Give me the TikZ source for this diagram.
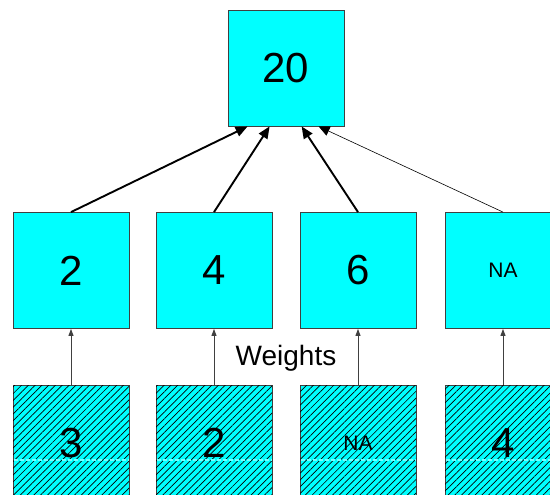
\documentclass[tikz,border=0pt]{standalone}
\usepackage{fontspec}
\setmainfont{Liberation Sans}
\usetikzlibrary{arrows.meta,patterns.meta,calc}
\definecolor{boxcyan}{HTML}{00FFFF}
\definecolor{boxedge}{HTML}{404040}
\tikzset{
  box/.style={draw=boxedge,line width=0.8pt,fill=boxcyan,minimum width=116pt,minimum height=116pt,inner sep=0pt,font=\fontsize{42}{42}\selectfont},
  hbox/.style={box,postaction={pattern={Lines[angle=45,distance=4.8pt,line width=0.7pt]},pattern color=black}},
  small/.style={font=\fontsize{21}{21}\selectfont},
  thick arrow/.style={line width=1.9pt,-{Triangle[length=12pt,width=10pt]}},
  thin arrow/.style={line width=0.6pt,-{Triangle[length=11pt,width=10pt]}},
  up arrow/.style={line width=0.9pt,draw=boxedge,-{Triangle[length=7pt,width=5pt]}},
}
\begin{document}
\begin{tikzpicture}[x=1pt,y=-1pt]
\clip (0,0) rectangle (550,495);
\fill[white] (0,0) rectangle (550,495);
\node[box] (top) at (286,68) {20};
\node[box] (m1) at (71,270.5) {2};
\node[box] (m2) at (214,270.5) {4};
\node[box] (m3) at (358,270.5) {6};
\node[box,small] (m4) at (503,270.5) {NA};
\node[hbox] (b1) at (71,443) {3};
\node[hbox] (b2) at (214,443) {2};
\node[hbox,small] (b3) at (358,443) {NA};
\node[hbox] (b4) at (503,443) {4};
\foreach \b in {b1,b2,b3,b4}
  \draw[boxcyan!55!white,line width=1.2pt,dash pattern=on 4pt off 2pt] ($(\b.west)+(1,17)$) -- ($(\b.east)+(-1,17)$);
\node[font=\fontsize{28}{28}\selectfont] (w) at (286,358) {Weights};
\draw[thick arrow] (m1.north) -- ($(top.south west)+(20,0)$);
\draw[thick arrow] (m2.north) -- ($(top.south west)+(42,0)$);
\draw[thick arrow] (m3.north) -- ($(top.south west)+(74,0)$);
\draw[thin arrow] (m4.north) -- ($(top.south west)+(91,0)$);
\foreach \i in {1,2,3,4}
  \draw[up arrow] (b\i.north) -- (m\i.south);
\end{tikzpicture}
\end{document}
